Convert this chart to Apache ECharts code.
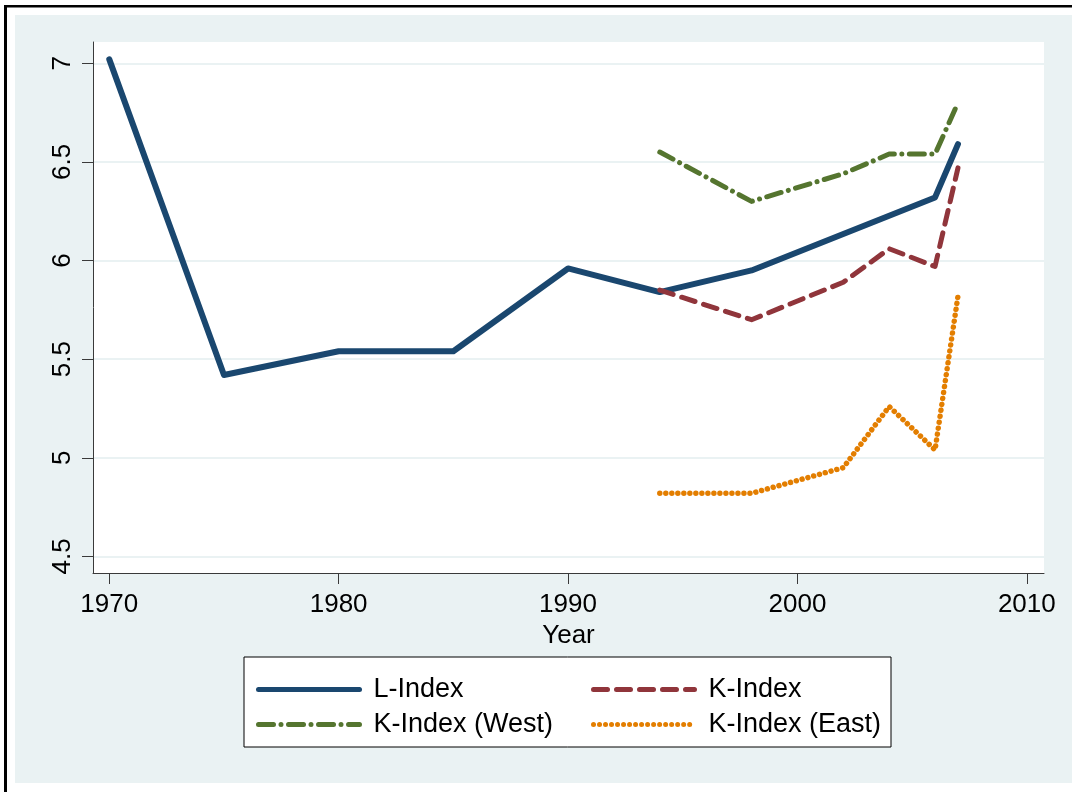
<!DOCTYPE html>
<html>
<head>
<meta charset="utf-8">
<script src="https://cdn.jsdelivr.net/npm/echarts@6/dist/echarts.min.js"></script>
<style>
html,body{margin:0;padding:0;background:#fff;}
#c{width:1072px;height:792px;}
</style>
</head>
<body>
<div id="c"></div>
<script>
// ---- data ----
const lYears = [1970, 1975, 1980, 1985, 1990, 1994, 1998, 2006, 2007];
const lVals  = [7.02, 5.42, 5.54, 5.54, 5.96, 5.84, 5.95, 6.32, 6.59];
const kYears = [1994, 1998, 2002, 2004, 2006, 2007];
const kVals  = [5.85, 5.70, 5.89, 6.06, 5.97, 6.47];
const wYears = [1994, 1998, 2002, 2004, 2006, 2007];
const wVals  = [6.55, 6.30, 6.44, 6.54, 6.54, 6.80];
const eYears = [1994, 1998, 2002, 2004, 2006, 2007];
const eVals  = [4.82, 4.82, 4.95, 5.26, 5.04, 5.82];
const xTicks = [1970, 1980, 1990, 2000, 2010];
const yTicks = [4.5, 5, 5.5, 6, 6.5, 7];
const seriesNames = ['L-Index', 'K-Index', 'K-Index (West)', 'K-Index (East)'];

const pairs = (xs, ys) => xs.map((x, i) => [x, ys[i]]);
const FONT = '"Liberation Sans", Arial, sans-serif';
const FS = 26;
const LFS = 27;

const chart = echarts.init(document.getElementById('c'), null, {renderer: 'canvas'});

const lineBase = {type: 'line', symbol: 'none', showSymbol: false, animation: false, silent: true};

const legendBase = {
  orient: 'vertical', top: 676,
  itemWidth: 101, itemHeight: 14, itemGap: 8, padding: 0,
  selectedMode: false,
  textStyle: {fontSize: LFS, color: '#000', fontFamily: FONT, padding: [0, 0, 0, 9]},
  lineStyle: {width: 5},
  itemStyle: {opacity: 0, borderWidth: 0}
};

const option = {
  animation: false,
  backgroundColor: '#ffffff',
  graphic: [
    {type: 'rect', shape: {x: 15, y: 15, width: 1057, height: 768}, style: {fill: '#EAF2F3'}, z: -10, silent: true},
    {type: 'rect', shape: {x: 4, y: 5, width: 3, height: 787}, style: {fill: '#000'}, z: -5, silent: true},
    {type: 'rect', shape: {x: 4, y: 5, width: 1068, height: 2.5}, style: {fill: '#000'}, z: -5, silent: true},
    {type: 'rect', shape: {x: 244, y: 657, width: 647, height: 90}, style: {fill: '#fff', stroke: '#000', lineWidth: 1}, z: 1, silent: true}
  ],
  grid: {
    left: 93, top: 42, width: 951, height: 531,
    show: true, backgroundColor: '#ffffff', borderWidth: 0
  },
  xAxis: {
    type: 'value', min: 1969.29, max: 2010.75,
    name: 'Year', nameLocation: 'middle', nameGap: 44,
    nameTextStyle: {fontSize: FS, color: '#000', fontFamily: FONT},
    axisLine: {show: true, lineStyle: {color: '#3a3a3a', width: 1}},
    axisTick: {show: true, length: 11, lineStyle: {color: '#3a3a3a'}, customValues: xTicks},
    axisLabel: {customValues: xTicks, fontSize: FS, color: '#000', fontFamily: FONT, margin: 19,
                formatter: v => String(v)},
    splitLine: {show: false}
  },
  yAxis: {
    type: 'value', min: 4.416, max: 7.108,
    axisLine: {show: true, lineStyle: {color: '#3a3a3a', width: 1}},
    axisTick: {show: true, length: 11, lineStyle: {color: '#3a3a3a'}, customValues: yTicks},
    axisLabel: {customValues: yTicks, rotate: 90, fontSize: FS, color: '#000', fontFamily: FONT, margin: 17,
                formatter: v => String(v)},
    splitLine: {show: true, lineStyle: {color: '#EAF2F3', width: 2}}
  },
  legend: [
    Object.assign({}, legendBase, {data: [seriesNames[0], seriesNames[2]], left: 256}),
    Object.assign({}, legendBase, {data: [seriesNames[1], seriesNames[3]], left: 591})
  ],
  series: [
    Object.assign({}, lineBase, {
      name: seriesNames[0], data: pairs(lYears, lVals), z: 5,
      lineStyle: {color: '#1A476F', width: 6, cap: 'round', join: 'round'},
      itemStyle: {color: '#1A476F'}
    }),
    Object.assign({}, lineBase, {
      name: seriesNames[1], data: pairs(kYears, kVals), z: 6,
      lineStyle: {color: '#90353B', width: 5, type: [14, 9], cap: 'round', join: 'round'},
      itemStyle: {color: '#90353B'}
    }),
    Object.assign({}, lineBase, {
      name: seriesNames[2], data: pairs(wYears, wVals), z: 4,
      lineStyle: {color: '#55752F', width: 5, type: [15, 7.5, 0.01, 7.5], cap: 'round', join: 'round'},
      itemStyle: {color: '#55752F'}
    }),
    Object.assign({}, lineBase, {
      name: seriesNames[3], data: pairs(eYears, eVals), z: 3,
      lineStyle: {color: '#E37E00', width: 5.5, type: [0.01, 6], cap: 'round', join: 'round'},
      itemStyle: {color: '#E37E00'}
    })
  ]
};
chart.setOption(option);
</script>
</body>
</html>
